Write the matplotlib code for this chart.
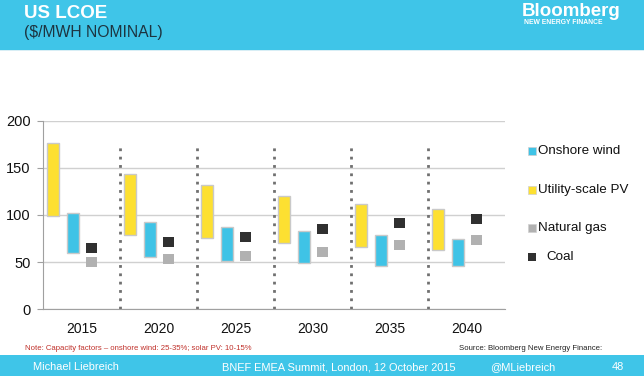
import matplotlib
matplotlib.use("Agg")
import matplotlib.pyplot as plt
from matplotlib.patches import Rectangle
import numpy as np

plt.rcParams['font.family'] = ['Liberation Sans', 'DejaVu Sans']

# ---- data ($/MWh nominal) ----
years = ["2015", "2020", "2025", "2030", "2035", "2040"]
pv_low = [99, 79, 76, 70, 66, 63]
pv_high = [176, 144, 132, 120, 112, 106]
wind_low = [60, 55, 51, 49, 46, 46]
wind_high = [102, 93, 87, 83, 79, 75]
coal = [65, 71, 77, 85, 91, 96]
gas = [50, 53, 56, 61, 68, 74]

W, H = 644, 376
fig = plt.figure(figsize=(W / 100, H / 100), dpi=100)
fig.patch.set_facecolor("white")

def fx(px):
    return px / W

def fy(py):
    return 1 - py / H

# header + footer bands
band = "#3fc5e8"
fig.add_artist(Rectangle((0, fy(50)), 1, 50 / H, transform=fig.transFigure,
                         facecolor=band, edgecolor="none", zorder=0))
fig.add_artist(Rectangle((0, fy(51)), 1, 1 / H, transform=fig.transFigure,
                         facecolor="#d8eef5", edgecolor="none", zorder=0))
fig.add_artist(Rectangle((0, 0), 1, 21 / H, transform=fig.transFigure,
                         facecolor=band, edgecolor="none", zorder=0))

fig.text(fx(24), fy(14), "US LCOE", color="white", fontsize=13.5,
         fontweight="bold", va="center", ha="left")
fig.text(fx(24), fy(32), "($/MWH NOMINAL)", color="#1d3440", fontsize=11.3,
         va="center", ha="left")
fig.text(fx(522), fy(11), "Bloomberg", color="white", fontsize=13.5,
         fontweight="bold", va="center", ha="left")
fig.text(fx(524), fy(22), "NEW ENERGY FINANCE", color="white",
         fontsize=4.9, fontweight="bold", va="center", ha="left")

# footer texts
foot = 7.9
fig.text(fx(33), fy(367), "Michael Liebreich", color="white", fontsize=foot,
         va="center")
fig.text(fx(222), fy(367), "BNEF EMEA Summit, London, 12 October 2015",
         color="white", fontsize=foot, va="center")
fig.text(fx(490), fy(367), "@MLiebreich", color="white", fontsize=foot,
         va="center")
fig.text(fx(612), fy(367), "48", color="white", fontsize=foot, va="center")

fig.text(fx(25), fy(348),
         "Note: Capacity factors \u2013 onshore wind: 25-35%; solar PV: 10-15%",
         color="#c0302a", fontsize=5.6, va="center")
fig.text(fx(459), fy(348), "Source: Bloomberg New Energy Finance:",
         color="#222222", fontsize=5.6, va="center")

# chart
ax = fig.add_axes([fx(43), fy(309.3), fx(505) - fx(43), (309.3 - 120.7) / H])
x = np.arange(len(years))
yellow, blue, dark, grey = "#fde031", "#3fc3e6", "#303030", "#b1b1b1"
edge = "#c9c9c9"

ax.bar(x - 0.37, np.array(pv_high) - np.array(pv_low), bottom=pv_low,
       width=0.165, color=yellow, edgecolor=edge, linewidth=1, zorder=3)
ax.bar(x - 0.115, np.array(wind_high) - np.array(wind_low), bottom=wind_low,
       width=0.155, color=blue, edgecolor=edge, linewidth=1, zorder=3)
sq = 10.6
ax.bar(x + 0.13, sq, bottom=np.array(coal) - sq / 2, width=0.147,
       color=dark, edgecolor="none", zorder=3)
ax.bar(x + 0.13, sq, bottom=np.array(gas) - sq / 2, width=0.147,
       color=grey, edgecolor="none", zorder=3)

# dotted separators between years
for xs in x[1:] - 0.5:
    ax.plot([xs, xs], [0, 176], linestyle=(0, (1, 2)), color="#707070",
            linewidth=2, zorder=2)

ax.set_xlim(-0.5, len(years) - 0.5)
ax.set_ylim(0, 200)
ax.set_yticks([0, 50, 100, 150, 200])
ax.set_xticks(x)
ax.set_xticklabels(years)
ax.yaxis.grid(True, color="#d0d0d0", linewidth=1)
ax.set_axisbelow(True)
for s in ["top", "right"]:
    ax.spines[s].set_visible(False)
ax.spines["left"].set_color("#a0a0a0")
ax.spines["bottom"].set_color("#a0a0a0")
ax.tick_params(axis="y", length=4, color="#a0a0a0", labelsize=10.5,
               labelcolor="#111111", pad=5)
ax.tick_params(axis="x", length=0, labelsize=10, labelcolor="#111111", pad=9)

# legend (manual to match spacing)
legend_items = [("Onshore wind", blue, 151, 538),
                ("Utility-scale PV", yellow, 190, 538),
                ("Natural gas", grey, 228, 538),
                ("Coal", dark, 257, 546)]
for label, col, py, tx in legend_items:
    fig.add_artist(Rectangle((fx(528), fy(py + 4)), 8 / W, 8 / H,
                             transform=fig.transFigure, facecolor=col,
                             edgecolor="#d0d0d0" if col != dark else "none",
                             linewidth=0.5))
    fig.text(fx(tx), fy(py), label, fontsize=9.6, color="#111111",
             va="center")

fig.savefig("out.png", dpi=100)
